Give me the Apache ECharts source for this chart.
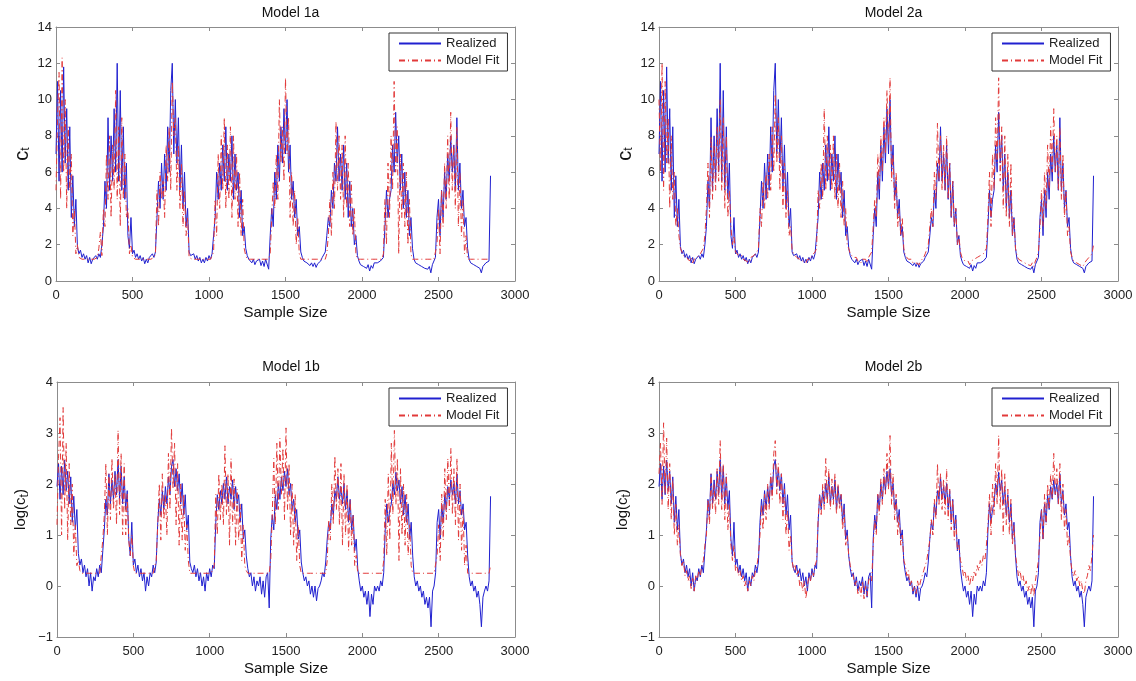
<!DOCTYPE html>
<html>
<head>
<meta charset="utf-8">
<script src="https://cdn.jsdelivr.net/npm/echarts@6/dist/echarts.min.js"></script>
<style>html,body{margin:0;padding:0;background:#fff}#c{width:1136px;height:681px}</style>
</head>
<body>
<div id="c"></div>
<script>
// Sample index spacing between stored readings (samples 0..2840)
const STEP = 10;
const titles = ['Model 1a', 'Model 2a', 'Model 1b', 'Model 2b'];
const seriesNames = ['Realized', 'Model Fit'];

// Realized c_t (levels)
const realized = [
7.0,11.0,5.5,10.5,6.0,11.8,6.5,9.5,5.0,8.5,3.5,5.8,3.0,4.5,
1.9,1.5,1.7,1.3,1.5,1.2,1.4,1.0,1.3,0.95,1.2,1.1,1.4,1.2,1.5,1.3,2.0,
3.0,5.5,4.0,9.0,5.0,8.0,5.5,9.5,6.0,12.0,5.5,10.5,5.0,8.5,4.5,6.5,2.5,
1.8,3.5,1.5,1.7,1.3,1.5,1.2,1.4,1.1,1.3,0.95,1.2,1.0,1.3,1.2,1.5,1.3,1.6,
3.5,5.5,4.0,6.5,4.5,7.0,5.0,8.5,6.0,10.5,12.0,7.0,10.0,6.5,9.0,5.0,7.5,4.0,6.0,3.0,4.0,
1.6,1.4,1.3,1.5,1.2,1.4,1.1,1.3,1.0,1.2,1.0,1.3,1.1,1.4,1.2,1.5,1.4,
3.5,6.0,4.5,6.5,5.0,7.5,5.5,8.5,5.0,7.0,5.5,8.0,4.5,7.0,5.0,6.0,3.5,5.0,2.5,3.0,1.8,
1.4,1.2,1.3,1.0,1.2,0.9,1.1,1.0,1.2,0.85,1.1,0.8,1.2,1.3,0.65,
2.5,4.0,3.0,6.0,4.5,7.5,5.5,8.5,6.5,9.5,7.0,10.0,6.0,7.5,4.5,5.5,3.5,4.5,2.5,3.0,1.6,
1.3,1.1,1.2,1.0,1.1,0.85,1.0,0.8,1.0,0.75,0.95,1.0,1.1,1.3,1.2,1.6,
2.5,3.5,3.0,5.0,4.0,6.5,5.5,8.5,5.5,7.0,5.0,7.5,4.5,6.5,3.5,5.5,3.0,4.0,2.0,2.5,1.4,
1.1,0.9,1.0,0.8,0.9,0.7,0.9,0.55,0.85,0.7,1.0,0.9,1.0,0.9,1.1,1.0,1.3,
3.0,5.0,3.5,4.5,5.0,7.5,6.0,9.3,6.5,8.0,5.0,7.0,4.0,6.0,3.5,5.0,2.5,3.5,1.8,
1.2,1.0,1.1,0.9,1.0,0.8,0.9,0.7,0.8,0.65,0.8,0.45,0.9,1.0,1.3,
3.5,4.5,2.5,5.0,3.5,6.0,4.5,7.0,5.5,8.0,6.0,7.5,5.0,9.0,5.0,6.5,4.0,5.0,3.0,3.5,1.8,
1.2,1.0,1.1,0.9,1.0,0.8,0.9,0.7,0.45,0.8,0.9,1.0,0.9,1.1,5.8];

// Model 1a fit (levels)
const fit1a = [
5.0,9.0,11.5,4.5,12.3,6.0,10.0,4.0,8.5,5.0,7.0,2.5,4.0,1.5,
2.0,1.3,1.2,1.2,1.2,1.2,1.2,1.2,1.2,1.2,1.2,1.2,1.2,1.3,1.8,2.7,1.4,
4.0,3.0,7.0,4.5,8.0,3.5,7.5,5.0,10.5,4.5,8.5,3.0,9.0,4.5,7.0,3.5,4.0,
1.5,2.0,1.3,1.2,1.2,1.2,1.2,1.2,1.2,1.2,1.2,1.2,1.2,1.2,1.2,1.2,1.3,1.5,
5.0,3.0,6.0,4.5,5.5,3.5,7.5,5.5,8.5,5.0,11.0,8.0,9.0,5.0,7.5,4.0,6.5,3.0,5.0,2.5,3.5,
1.3,1.2,1.2,1.2,1.2,1.2,1.2,1.2,1.2,1.2,1.2,1.2,1.2,1.2,1.2,1.3,1.6,
4.5,2.5,7.0,4.0,8.0,5.0,9.0,4.0,7.5,4.5,8.5,3.5,8.0,4.5,7.0,3.0,6.0,2.5,4.5,1.8,1.4,
1.2,1.2,1.2,1.2,1.2,1.2,1.2,1.2,1.2,1.2,1.2,1.2,1.2,1.2,1.2,
1.5,3.5,5.5,4.0,7.0,4.5,10.0,6.5,8.5,5.5,11.2,7.0,9.0,3.5,6.0,3.0,5.0,2.0,3.5,1.5,1.2,
1.2,1.2,1.2,1.2,1.2,1.2,1.2,1.2,1.2,1.2,1.2,1.2,1.2,1.2,1.2,1.2,
1.5,2.5,4.5,2.5,6.0,4.0,8.8,5.0,8.0,4.5,7.5,3.5,8.0,4.0,6.5,3.0,5.5,2.5,4.0,1.5,1.2,
1.2,1.2,1.2,1.2,1.2,1.2,1.2,1.2,1.2,1.2,1.2,1.2,1.2,1.2,1.2,1.2,1.5,
4.5,2.0,6.5,3.5,8.0,5.0,11.0,6.0,8.5,1.5,7.0,3.5,6.5,3.0,6.0,2.0,4.5,1.5,1.2,
1.2,1.2,1.2,1.2,1.2,1.2,1.2,1.2,1.2,1.2,1.2,1.2,1.2,1.2,1.2,
2.0,4.0,1.5,5.0,3.0,6.5,4.0,8.0,4.5,9.3,5.0,7.5,4.0,8.5,3.0,6.0,2.5,4.5,1.5,2.5,1.2,
1.2,1.2,1.2,1.2,1.2,1.2,1.2,1.2,1.2,1.2,1.2,1.2,1.2,1.2,1.2];

// Model 2a fit (levels)
const fit2a = [
10.0,6.0,12.0,5.0,11.0,6.5,9.0,4.0,8.0,4.5,6.0,3.0,4.0,2.5,
1.8,1.6,1.4,1.5,1.3,1.4,1.1,1.3,1.0,1.2,1.1,1.3,1.2,1.5,1.4,1.8,2.5,
4.0,6.5,3.5,8.0,4.5,7.5,5.0,8.5,5.5,10.0,5.0,9.0,4.0,8.0,3.5,5.0,3.0,
2.0,2.5,1.6,1.5,1.4,1.3,1.4,1.2,1.3,1.1,1.2,1.0,1.3,1.2,1.4,1.3,1.6,1.8,
4.0,3.0,5.5,4.0,6.0,4.5,7.0,5.0,8.5,6.0,10.3,6.5,9.0,5.0,8.0,4.0,6.5,3.5,5.0,2.5,3.0,
1.7,1.5,1.4,1.3,1.4,1.2,1.3,1.1,1.2,1.0,1.2,1.3,1.2,1.4,1.3,1.6,1.8,
5.0,4.0,6.5,4.5,9.5,5.0,8.0,5.5,7.5,5.0,8.0,4.5,7.0,4.0,6.5,3.5,5.5,3.0,4.0,2.0,1.8,
1.5,1.4,1.3,1.2,1.3,1.1,1.2,1.0,1.2,1.1,1.2,1.0,1.3,1.4,1.6,
3.0,4.5,3.5,7.0,5.0,8.0,6.0,9.0,7.0,10.5,7.5,11.2,5.5,7.0,4.0,6.0,3.0,4.0,2.5,3.5,1.8,
1.4,1.3,1.2,1.1,1.2,1.0,1.1,1.0,1.1,0.9,1.1,1.2,1.3,1.5,1.4,2.0,
3.0,4.0,3.0,6.0,4.5,8.7,5.5,8.0,5.0,7.5,5.0,8.0,4.5,6.5,3.5,5.5,3.0,4.0,2.0,2.5,1.6,
1.3,1.2,1.1,1.0,1.1,0.9,1.1,1.0,1.2,1.1,1.3,1.2,1.4,1.3,1.5,1.4,1.8,
3.5,6.0,3.0,7.0,5.0,9.0,6.5,11.2,5.5,8.5,4.0,8.0,3.5,7.0,3.0,6.5,2.5,3.5,1.8,
1.4,1.2,1.3,1.1,1.2,1.0,1.1,0.9,1.0,0.85,1.0,0.8,1.1,1.3,1.6,
3.0,5.0,3.0,6.0,4.0,7.5,5.0,8.5,6.0,9.5,6.0,8.0,5.0,8.5,4.5,7.0,3.5,5.0,2.5,3.0,1.6,
1.3,1.1,1.2,1.0,1.1,0.9,1.0,0.8,0.9,1.1,1.2,1.3,1.2,1.5,2.0];

// Realized log(c_t)
const realizedLog = [
1.95,2.4,1.7,2.35,1.79,2.47,1.87,2.25,1.61,2.14,1.25,1.76,1.1,1.5,
0.64,0.41,0.53,0.26,0.41,0.18,0.34,0.0,0.26,-0.1,0.18,0.1,0.34,0.18,0.41,0.26,0.69,
1.1,1.7,1.39,2.2,1.61,2.08,1.7,2.25,1.79,2.48,1.7,2.35,1.61,2.14,1.5,1.87,0.92,
0.59,1.25,0.41,0.53,0.26,0.41,0.18,0.34,0.1,0.26,-0.1,0.18,0.0,0.26,0.18,0.41,0.26,0.47,
1.25,1.7,1.39,1.87,1.5,1.95,1.61,2.14,1.79,2.35,2.48,1.95,2.3,1.87,2.2,1.61,2.01,1.39,1.79,1.1,1.39,
0.47,0.34,0.26,0.41,0.18,0.34,0.1,0.26,0.0,0.18,-0.1,0.26,0.1,0.34,0.18,0.41,0.34,
1.25,1.79,1.5,1.87,1.61,2.01,1.7,2.14,1.61,1.95,1.7,2.08,1.5,1.95,1.61,1.79,1.25,1.61,0.92,1.1,0.59,
0.34,0.18,0.26,0.0,0.18,-0.1,0.1,0.0,0.18,-0.16,0.1,-0.22,0.18,0.26,-0.43,
0.92,1.39,1.1,1.79,1.5,2.01,1.7,2.14,1.87,2.25,1.95,2.3,1.79,2.01,1.5,1.7,1.25,1.5,0.92,1.1,0.47,
0.26,0.1,0.18,0.0,0.1,-0.16,0.0,-0.22,0.0,-0.29,-0.05,0.0,0.1,0.26,0.18,0.47,
0.92,1.25,1.1,1.61,1.39,1.87,1.7,2.14,1.7,1.95,1.61,2.01,1.5,1.87,1.25,1.7,1.1,1.39,0.69,0.92,0.34,
0.1,-0.1,0.0,-0.22,-0.1,-0.36,-0.1,-0.6,-0.16,-0.36,0.0,-0.1,0.0,-0.1,0.1,0.0,0.26,
1.1,1.61,1.25,1.5,1.61,2.01,1.79,2.23,1.87,2.08,1.61,1.95,1.39,1.79,1.25,1.61,0.92,1.25,0.59,
0.18,0.0,0.1,-0.1,0.0,-0.22,-0.1,-0.36,-0.22,-0.43,-0.22,-0.8,-0.1,0.0,0.26,
1.25,1.5,0.92,1.61,1.25,1.79,1.5,1.95,1.7,2.08,1.79,2.01,1.61,2.2,1.61,1.87,1.39,1.61,1.1,1.25,0.59,
0.18,0.0,0.1,-0.1,0.0,-0.22,-0.1,-0.36,-0.8,-0.22,-0.1,0.0,-0.1,0.1,1.76];

// Model 1b fit (logs)
const fit1b = [
1.2,2.5,3.3,1.0,3.5,1.5,2.8,0.9,2.4,1.2,2.0,0.6,1.2,0.4,
0.5,0.3,0.25,0.25,0.25,0.25,0.25,0.25,0.25,0.25,0.25,0.25,0.25,0.25,0.25,0.6,0.9,
1.4,2.4,1.0,2.2,1.3,2.5,1.5,2.2,1.2,3.05,1.4,2.6,1.0,2.4,1.0,1.8,0.9,
0.6,1.0,0.4,0.25,0.25,0.25,0.25,0.25,0.25,0.25,0.25,0.25,0.25,0.25,0.25,0.25,0.25,0.5,
1.2,2.0,0.9,2.2,1.3,1.8,1.0,2.6,1.5,3.1,1.9,2.8,1.2,2.4,0.8,2.0,0.9,1.8,0.7,1.2,0.5,
0.25,0.25,0.25,0.25,0.25,0.25,0.25,0.25,0.25,0.25,0.25,0.25,0.25,0.25,0.25,0.25,0.4,
1.8,1.0,2.2,1.3,2.0,1.2,2.75,1.4,2.2,0.8,2.5,1.2,2.1,0.8,1.9,0.9,1.6,0.5,1.2,0.4,0.3,
0.25,0.25,0.25,0.25,0.25,0.25,0.25,0.25,0.25,0.25,0.25,0.25,0.25,0.25,0.25,
0.5,1.4,2.5,1.2,2.8,1.5,2.9,1.8,2.7,1.3,3.1,1.5,2.4,1.0,2.0,0.8,1.8,0.5,1.2,0.4,0.25,
0.25,0.25,0.25,0.25,0.25,0.25,0.25,0.25,0.25,0.25,0.25,0.25,0.25,0.25,0.25,0.25,
0.5,1.3,0.9,2.0,1.2,2.55,1.5,2.3,1.2,2.4,0.8,2.2,1.0,2.0,0.7,1.7,0.8,1.4,0.4,0.6,0.25,
0.25,0.25,0.25,0.25,0.25,0.25,0.25,0.25,0.25,0.25,0.25,0.25,0.25,0.25,0.25,0.25,0.5,
1.7,0.6,2.2,0.9,2.8,1.4,3.05,1.6,2.5,0.5,2.3,1.0,2.0,0.8,1.8,0.6,1.2,0.4,0.25,
0.25,0.25,0.25,0.25,0.25,0.25,0.25,0.25,0.25,0.25,0.25,0.25,0.25,0.25,0.25,
0.6,1.2,0.5,1.8,0.9,2.3,1.3,2.5,1.5,2.7,1.4,2.3,1.2,2.5,0.9,2.0,0.7,1.5,0.4,0.8,0.25,
0.25,0.25,0.25,0.25,0.25,0.25,0.25,0.25,0.25,0.25,0.25,0.25,0.25,0.25,0.4];

// Model 2b fit (logs)
const fit2b = [
2.2,2.8,1.6,3.2,1.8,2.9,1.5,2.4,1.3,2.1,1.0,1.6,0.8,1.2,
0.6,0.4,0.5,0.2,0.3,0.1,0.2,-0.05,0.15,-0.1,0.2,0.1,0.3,0.2,0.4,0.5,0.8,
1.0,1.7,1.2,2.2,1.5,2.0,1.4,2.3,1.6,2.85,1.5,2.4,1.3,2.2,1.1,1.6,0.8,
0.5,0.8,0.3,0.4,0.2,0.3,0.1,0.2,0.0,0.1,-0.1,0.1,0.0,0.2,0.1,0.3,0.4,0.6,
1.0,1.6,1.1,1.8,1.3,2.0,1.5,2.2,1.7,2.6,2.85,1.8,2.4,1.6,2.2,1.3,1.9,1.0,1.5,0.7,1.0,
0.5,0.3,0.4,0.2,0.3,0.0,0.1,-0.1,0.1,-0.25,0.0,0.2,0.1,0.3,0.2,0.4,0.5,
1.3,1.8,1.4,2.0,1.5,2.5,1.6,2.3,1.5,2.1,1.6,2.2,1.4,2.0,1.5,1.8,1.1,1.5,0.8,1.0,0.6,
0.4,0.3,0.2,0.0,0.1,-0.15,0.0,-0.2,0.1,-0.25,0.0,-0.2,0.1,0.2,0.1,
0.8,1.3,1.0,1.8,1.4,2.1,1.6,2.3,1.8,2.6,1.9,2.95,1.6,2.2,1.3,1.8,1.0,1.4,0.8,1.0,0.5,
0.4,0.2,0.3,0.0,0.1,-0.1,0.0,-0.15,0.1,-0.05,0.1,0.2,0.3,0.4,0.5,0.7,
0.9,1.3,1.0,1.7,1.3,2.4,1.6,2.2,1.5,2.1,1.4,2.3,1.3,1.9,1.1,1.7,0.9,1.3,0.7,0.8,0.5,
0.4,0.2,0.3,0.1,0.2,0.0,0.2,0.1,0.3,0.2,0.4,0.3,0.5,0.4,0.6,0.5,0.8,
1.2,1.8,1.0,2.0,1.4,2.4,1.6,2.95,1.5,2.3,1.0,2.2,1.2,1.9,1.0,1.7,0.8,1.2,0.6,
0.4,0.2,0.3,0.1,0.2,0.0,0.1,-0.1,0.0,-0.15,0.05,-0.2,0.1,0.3,0.5,
1.0,1.5,0.9,1.8,1.2,2.0,1.5,2.2,1.7,2.6,1.8,2.3,1.6,2.4,1.3,2.0,1.1,1.5,0.8,1.0,0.5,
0.3,0.2,0.3,0.1,0.2,0.0,0.1,-0.1,-0.15,0.1,0.2,0.4,0.3,0.6,1.0];

const panels = [
  {title: titles[0], real: realized, fit: fit1a, log: false},
  {title: titles[1], real: realized, fit: fit2a, log: false},
  {title: titles[2], real: realizedLog, fit: fit1b, log: true},
  {title: titles[3], real: realizedLog, fit: fit2b, log: true}
];

const FONT = '"Liberation Sans", Arial, Helvetica, sans-serif';
const grids = [
  {left: 56, top: 27, width: 459, height: 254},
  {left: 659, top: 27, width: 459, height: 254},
  {left: 57, top: 382, width: 458, height: 255},
  {left: 659, top: 382, width: 459, height: 255}
];
const legendPos = [
  {left: 389, top: 33}, {left: 992, top: 33},
  {left: 389, top: 388}, {left: 992, top: 388}
];
const titleTop = [1, 1, 355, 355];
const AX = '#8c8c8c';
const BLUE = '#2020d0';
const RED = '#e23a3a';

function pts(arr) { return arr.map((v, i) => [i * STEP, v]); }
const fmt = v => (v < 0 ? '\u2212' + Math.abs(v) : String(v));

const option = {
  animation: false,
  backgroundColor: '#fff',
  textStyle: {fontFamily: FONT},
  title: panels.map((p, k) => ({
    text: p.title,
    left: grids[k].left + grids[k].width / 2,
    top: titleTop[k],
    textAlign: 'center',
    textStyle: {fontSize: 14, fontWeight: 'normal', color: '#111', fontFamily: FONT}
  })),
  legend: panels.map((p, k) => ({
    data: seriesNames,
    orient: 'vertical',
    left: legendPos[k].left,
    top: legendPos[k].top,
    itemWidth: 42,
    itemHeight: 14,
    itemGap: 4,
    padding: [4, 8, 4, 9],
    backgroundColor: '#fff',
    borderColor: '#333',
    borderWidth: 1,
    borderRadius: 0,
    selectedMode: false,
    itemStyle: {opacity: 0},
    textStyle: {fontSize: 13, color: '#222', fontFamily: FONT}
  })),
  grid: grids.map(g => Object.assign({containLabel: false}, g)),
  xAxis: [0, 1, 2, 3].map(k => ({
    type: 'value', gridIndex: k, min: 0, max: 3000, interval: 500,
    name: 'Sample Size', nameLocation: 'middle', nameGap: 24,
    nameTextStyle: {fontSize: 15, color: '#111', fontFamily: FONT},
    axisLine: {show: true, onZero: false, lineStyle: {color: AX, width: 1}},
    axisTick: {show: true, inside: true, length: 4, lineStyle: {color: AX}},
    axisLabel: {fontSize: 13, color: '#222', margin: 8, fontFamily: FONT, formatter: fmt},
    splitLine: {show: false}
  })).concat([0, 1, 2, 3].map(k => ({
    type: 'value', gridIndex: k, min: 0, max: 3000, interval: 500, position: 'top',
    axisLine: {show: true, onZero: false, lineStyle: {color: AX, width: 1}},
    axisTick: {show: true, inside: true, length: 4, lineStyle: {color: AX}},
    axisLabel: {show: false}, splitLine: {show: false}
  }))),
  yAxis: panels.map((p, k) => ({
    type: 'value', gridIndex: k,
    min: p.log ? -1 : 0, max: p.log ? 4 : 14, interval: p.log ? 1 : 2,
    name: p.log ? '{n|log(c}{s|t}{n|)}' : '{c|c}{s|t}',
    nameLocation: 'middle', nameGap: p.log ? 26 : 24, nameRotate: 90,
    nameTextStyle: {
      color: '#111', fontFamily: FONT,
      rich: {
        n: {fontSize: 15, color: '#111', fontFamily: FONT},
        c: {fontSize: 20, color: '#111', fontFamily: FONT},
        s: {fontSize: 12, color: '#111', fontFamily: FONT, padding: [8, 0, 0, 0]}
      }
    },
    axisLine: {show: true, onZero: false, lineStyle: {color: AX, width: 1}},
    axisTick: {show: true, inside: true, length: 4, lineStyle: {color: AX}},
    axisLabel: {fontSize: 13, color: '#222', margin: 4, fontFamily: FONT, formatter: fmt},
    splitLine: {show: false}
  })).concat(panels.map((p, k) => ({
    type: 'value', gridIndex: k, position: 'right',
    min: p.log ? -1 : 0, max: p.log ? 4 : 14, interval: p.log ? 1 : 2,
    axisLine: {show: true, onZero: false, lineStyle: {color: AX, width: 1}},
    axisTick: {show: true, inside: true, length: 4, lineStyle: {color: AX}},
    axisLabel: {show: false}, splitLine: {show: false}
  }))),
  series: []
};

panels.forEach((p, k) => {
  option.series.push({
    name: seriesNames[0], type: 'line', xAxisIndex: k, yAxisIndex: k,
    data: pts(p.real), showSymbol: false, symbol: 'none',
    lineStyle: {color: BLUE, width: 1}, itemStyle: {color: BLUE}, z: 2
  });
  option.series.push({
    name: seriesNames[1], type: 'line', xAxisIndex: k, yAxisIndex: k,
    data: pts(p.fit), showSymbol: false, symbol: 'none',
    lineStyle: {color: RED, width: 1, type: [6, 3, 1, 3]}, itemStyle: {color: RED}, z: 3
  });
});

const chart = echarts.init(document.getElementById('c'), null, {renderer: 'canvas'});
chart.setOption(option);
</script>
</body>
</html>
